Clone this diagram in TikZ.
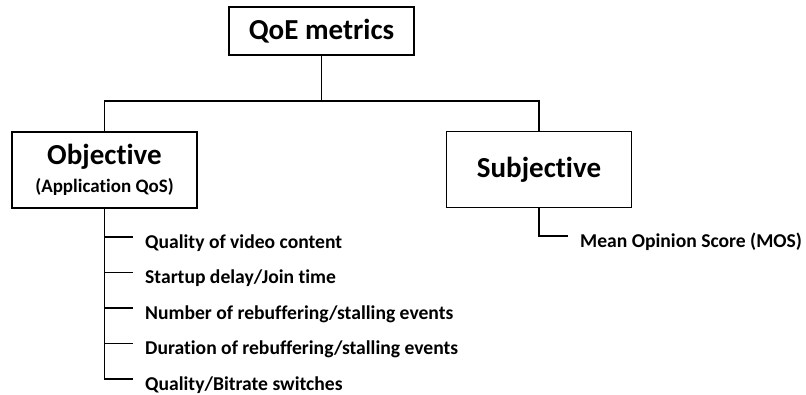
\documentclass[tikz,border=0pt]{standalone}
\usepackage{fontspec}
\setmainfont{Carlito}[Ligatures=NoCommon]
\usepackage{tikz}
\usetikzlibrary{positioning}

\begin{document}
\begin{tikzpicture}[
    x=1pt,y=1pt,
    every node/.style={font=\bfseries},
    topbox/.style={rectangle,draw=black,line width=1.4pt,align=center,
      minimum width=185pt,minimum height=48pt,inner sep=0pt,
      font=\bfseries\fontsize{29}{33}\selectfont},
    catbox/.style={rectangle,draw=black,line width=1.4pt,align=center,
      minimum width=185pt,minimum height=76pt,inner sep=0pt,
      font=\bfseries\fontsize{29}{33}\selectfont},
    itemtxt/.style={anchor=west,inner sep=0pt,text height=23pt,text depth=0pt,
      font=\bfseries\fontsize{19.6}{22}\selectfont},
    link/.style={line width=1.3pt,black},
  ]
  \useasboundingbox (0,0) rectangle (806,-395);
  \node[topbox] (qoe) at (321.5,-31) {QoE metrics};
  \node[catbox] (obj) at (104.5,-170) {Objective\\[-5pt]{\fontsize{19}{22}\selectfont(Application QoS)}};
  \node[catbox] (subj) at (539,-169.5) {Subjective};
  \coordinate (bus) at (321.5,-101);
  % tree links
  \draw[link] (qoe.south) -- (bus);
  \draw[link] (obj.north) -- (obj.north |- bus) -- (subj.north |- bus) -- (subj.north);
  % objective metrics
  \node[itemtxt] (q1) at (145,-237) {Quality of video content};
  \node[itemtxt,below=35.5pt of q1.west,anchor=west] (q2) {Startup delay/Join time};
  \node[itemtxt,below=35.5pt of q2.west,anchor=west] (q3) {Number of rebuffering/stalling events};
  \node[itemtxt,below=35.5pt of q3.west,anchor=west] (q4) {Duration of rebuffering/stalling events};
  \node[itemtxt,below=35.5pt of q4.west,anchor=west] (q5) {Quality/Bitrate switches};
  \draw[link] (obj.south) |- ([xshift=-12pt]q5.west);
  \foreach \i in {1,...,4}
    \draw[link] (obj.south |- q\i.west) -- ([xshift=-12pt]q\i.west);
  % subjective metric
  \node[itemtxt] (mos) at (580,-236) {Mean Opinion Score (MOS)};
  \draw[link] (subj.south) |- ([xshift=-12pt]mos.west);
\end{tikzpicture}
\end{document}
